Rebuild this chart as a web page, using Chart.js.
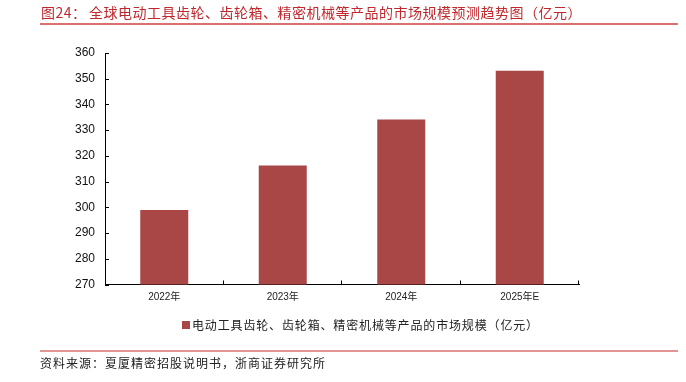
<!DOCTYPE html>
<html>
<head>
<meta charset="utf-8">
<script src="https://cdn.jsdelivr.net/npm/chart.js@4"></script>
<style>
  body { margin: 0; background: #fff; }
  #wrap { position: relative; width: 686px; height: 382px; overflow: hidden; }
  #chart { position: absolute; left: 0; top: 0; }
  .cjk { font-family: "Noto Sans CJK SC", sans-serif; position: absolute; white-space: nowrap; }
  .title { color: #c0282d; font-size: 14px; letter-spacing: 0.5px; top: 3px; line-height: 18px; }
  .rule { position: absolute; left: 40px; width: 638px; height: 2px; background: #dc7070; }
  #legend { left: 182px; top: 317px; font-size: 12px; letter-spacing: 0.85px; color: #222; line-height: 16px; }
  #legend i { display: inline-block; width: 8px; height: 8px; margin-right: 2px; vertical-align: 1px; }
  .source { left: 40px; top: 355px; font-size: 12px; letter-spacing: 1px; color: #222; line-height: 16px; }
</style>
</head>
<body>
<div id="wrap">
  <canvas id="chart" width="686" height="382"></canvas>
  <div class="cjk title" style="left:41px">图24：</div>
  <div class="cjk title" style="left:89px">全球电动工具齿轮、齿轮箱、精密机械等产品的市场规模预测趋势图（亿元）</div>
  <div class="rule" style="top:23px"></div>
  <div class="cjk" id="legend"></div>
  <div class="rule" style="top:350px; background:#e39494"></div>
  <div class="cjk source">资料来源：夏厦精密招股说明书，浙商证券研究所</div>
</div>
<script>
// =======================
// Data
// =======================
const years = ["2022年", "2023年", "2024年", "2025年E"]
const marketSize = [299, 316.3, 334.1, 353.1]
const seriesName = "电动工具齿轮、齿轮箱、精密机械等产品的市场规模（亿元）"
const barColor = "#a94646"

const numFont = "'Liberation Sans', 'Noto Sans CJK SC', sans-serif"


// =======================
// Legend (html)
// =======================
const legend = document.getElementById("legend")
legend.innerHTML = `<i style="background:${barColor}"></i>${seriesName}`


// =======================
// Inner tick marks
// =======================
const innerTicks = {
  id: "innerTicks",
  afterDraw(c) {
    const ctx = c.ctx
    const area = c.chartArea
    const x = c.scales.x
    const y = c.scales.y

    ctx.save()
    ctx.strokeStyle = "#000"
    ctx.lineWidth = 1

    // y ticks point right
    y.ticks.forEach((t, i) => {
      const py = Math.round(y.getPixelForTick(i)) + 0.5
      ctx.beginPath()
      ctx.moveTo(area.left, py)
      ctx.lineTo(area.left + 4, py)
      ctx.stroke()
    })

    // x ticks at category boundaries, pointing up
    const step = x.width / years.length
    for (let i = 1; i <= years.length; i++) {
      const px = Math.round(area.left + step * i) - 0.5
      ctx.beginPath()
      ctx.moveTo(px, area.bottom)
      ctx.lineTo(px, area.bottom - 4)
      ctx.stroke()
    }
    ctx.restore()
  }
}


// =======================
// Chart
// =======================
new Chart(document.getElementById("chart"), {
  type: "bar",
  data: {
    labels: years,
    datasets: [{
      label: seriesName,
      data: marketSize,
      backgroundColor: barColor,
      barPercentage: 0.405,
      categoryPercentage: 1
    }]
  },
  options: {
    animation: false,
    responsive: false,
    layout: {
      padding: { left: 0, right: 107, top: 53, bottom: 77.5 }
    },
    plugins: {
      legend: { display: false },
      tooltip: { enabled: false }
    },
    scales: {
      x: {
        grid: { display: false, drawTicks: false },
        border: { color: "#000", width: 1 },
        ticks: {
          color: "#222",
          font: { family: numFont, size: 10 },
          padding: 7
        },
        afterFit: axis => { axis.height = 20 }
      },
      y: {
        min: 270,
        max: 360,
        grid: { display: false, drawTicks: false },
        border: { color: "#000", width: 1 },
        ticks: {
          stepSize: 10,
          color: "#111",
          font: { family: numFont, size: 12 },
          padding: 10
        },
        afterFit: axis => { axis.width = 105 }
      }
    }
  },
  plugins: [innerTicks]
})
</script>
</body>
</html>
